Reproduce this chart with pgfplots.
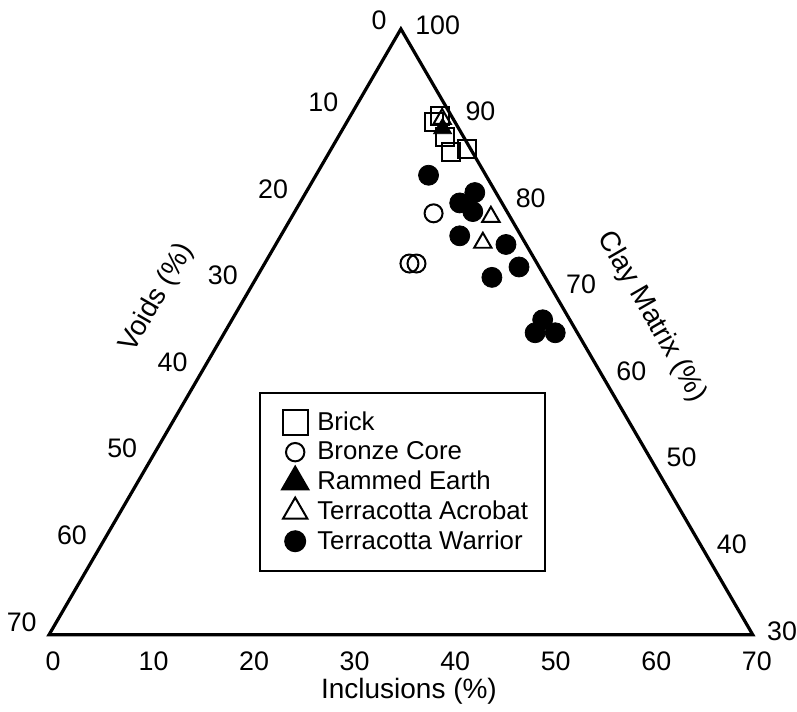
\documentclass[border=0pt]{standalone}
\usepackage{fontspec}
\setmainfont{Liberation Sans}
\usepackage{pgfplots}
\usepackage{pgfplotstable}
\pgfplotsset{compat=1.18}

% ternary values: Inclusions, Voids, Clay matrix (%)
\pgfplotstableread{
I V C
0 70 30
70 0 30
0 0 100
0 70 30
70 0 30
}\tri

\pgfplotstableread{
I V C
8.9 1.2 89.9
8.7 2.1 89.2
10.6 1.9 87.5
12.1 2.1 85.8
13.5 0.4 86.1
}\brick

\pgfplotstableread{
I V C
13.9 7.4 78.7
14.4 12.7 72.9
15.1 12.0 72.9
}\bronze

\pgfplotstableread{
I V C
9.9 1.6 88.5
}\rammed

\pgfplotstableread{
I V C
9.3 1.1 89.6
19.8 1.9 78.3
20.5 4.2 75.3
}\acrobat

\pgfplotstableread{
I V C
11.2 5.7 83.1
16.8 2.1 81.1
15.9 4.2 79.9
17.7 3.4 78.9
17.8 6.1 76.1
22.9 2.0 75.1
25.5 2.0 72.5
23.4 5.3 71.3
30.9 2.7 66.4
30.9 4.2 64.9
32.9 2.2 64.9
}\warrior

\pgfplotsset{
  table/tern/.style={
    x expr={\thisrow{I}+0.5*(\thisrow{C}-30)},
    y expr={0.8660254*(\thisrow{C}-30)}},
  limg/.style={legend image code/.code={%
    \path (0cm,0cm) (0.6cm,0cm);
    \draw[##1, mark size=#1] plot coordinates {(0.3cm,0cm)};}},
}

\begin{document}
\begin{tikzpicture}[font=\fontsize{13.4}{16}\selectfont]
\begin{axis}[
  scale only axis,
  width=398.5pt, height=355.5pt,
  xmin=-4.872, xmax=74.375,
  ymin=-7.602, ymax=63.52,
  hide axis,
  clip=false,
  legend cell align=left,
  legend style={at={(axis cs:20.9,24.3)}, anchor=north west,
    draw=black, line width=1pt, inner xsep=8.5pt, inner ysep=7.5pt,
    nodes={inner xsep=0pt}, column sep=2pt,
    font=\fontsize{12.9}{15}\selectfont},
  ]
  % invisible corners: keep the full picture area
  \addplot[draw=none, forget plot] coordinates {(-4.872,-7.602) (74.375,63.52)};
  \addplot[black, line width=1.6pt, forget plot] table[tern] {\tri};

  \addplot[only marks, mark=square, mark size=4.5pt, line width=1pt, black, limg=6.3pt]
    table[tern] {\brick};
  \addplot[only marks, mark=o, mark size=4.5pt, line width=1pt, black, limg=4.6pt]
    table[tern] {\bronze};
  \addplot[only marks, mark=triangle*, mark size=5.2pt, black, fill=black, limg=7.6pt]
    table[tern] {\rammed};
  \addplot[only marks, mark=triangle, mark size=5pt, line width=1pt, black, limg=7pt]
    table[tern] {\acrobat};
  \addplot[only marks, mark=*, mark size=5pt, black, fill=black, limg=5pt]
    table[tern] {\warrior};
  \legend{Brick, Bronze Core, Rammed Earth, Terracotta Acrobat, Terracotta Warrior}

  % edge labels
  \pgfplotsinvokeforeach{0,10,...,70}{
    \node[anchor=north, inner sep=0pt, xshift=2pt, yshift=-8.5pt] at (axis cs:#1,0) {#1};
  }
  \node[anchor=east, inner sep=0pt, xshift=-7pt, yshift=4.5pt] at (axis cs:35,60.62) {0};
  \pgfplotsinvokeforeach{10,20,...,70}{
    \node[anchor=east, inner sep=0pt, xshift=-6pt, yshift=6.5pt]
      at (axis cs:{(70-#1)/2},{0.8660254*(70-#1)}) {#1};
  }
  \pgfplotsinvokeforeach{30,40,...,100}{
    \node[anchor=west, inner sep=0pt, xshift=7pt, yshift=2pt]
      at (axis cs:{85-#1/2},{0.8660254*(#1-30)}) {#1};
  }

  \node[font=\fontsize{14}{16}\selectfont] at (axis cs:35.8,-5.67) {Inclusions (\%)};
  \node[font=\fontsize{14}{16}\selectfont, rotate=60] at (axis cs:10.74,33.7) {Voids (\%)};
  \node[font=\fontsize{14}{16}\selectfont, rotate=-60] at (axis cs:59.93,31.82) {Clay Matrix (\%)};
\end{axis}
\end{tikzpicture}
\end{document}
